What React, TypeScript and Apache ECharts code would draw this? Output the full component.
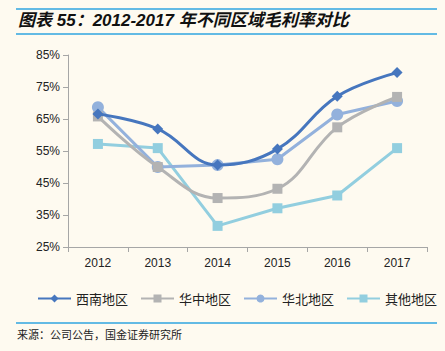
import React, { useEffect, useRef } from "react";
import * as echarts from "echarts";

const years = ["2012", "2013", "2014", "2015", "2016", "2017"];
const seriesNames = ["西南地区", "华中地区", "华北地区", "其他地区"];
const xinan = [66.6, 61.9, 50.6, 55.6, 72.1, 79.5];
const huazhong = [65.8, 50.0, 40.3, 43.2, 62.4, 71.9];
const huabei = [68.7, 50.0, 50.6, 52.4, 66.4, 70.6];
const qita = [57.2, 55.9, 31.6, 37.1, 41.1, 55.9];
const titleText = "图表 55：2012-2017 年不同区域毛利率对比";
const sourceText = "来源：公司公告，国金证券研究所";

const colors = ["#4676BE", "#B3B3B3", "#93B1DC", "#92CEDF"];
const symbols = ["diamond", "rect", "circle", "rect"];
const symbolSizes = [11, 10, 12, 10];
const smooths = [true, true, false, false];
const datasets = [xinan, huazhong, huabei, qita];

export default function App() {
  const ref = useRef<HTMLDivElement>(null);
  useEffect(() => {
    if (!ref.current) return;
    const chart = echarts.init(ref.current, null, { renderer: "svg" });
    const font = "'Liberation Sans', Arial, 'Noto Sans CJK SC', sans-serif";
    chart.setOption({
      animation: false,
      backgroundColor: "#FEFAF0",
      textStyle: { fontFamily: font },
      grid: { left: 68, right: 18, top: 55, bottom: 104, containLabel: false },
      legend: {
        bottom: 46,
        left: 37,
        right: 0,
        padding: 0,
        itemWidth: 33,
        itemHeight: 10,
        itemGap: 12,
        textStyle: { fontSize: 13, color: "#222", fontFamily: "'Noto Sans CJK SC', sans-serif" },
        data: seriesNames,
      },
      xAxis: {
        type: "category",
        data: years,
        boundaryGap: true,
        axisLine: { lineStyle: { color: "#A6A6A6", width: 1 } },
        axisTick: { show: true, alignWithLabel: false, length: 5, lineStyle: { color: "#A6A6A6" } },
        axisLabel: { color: "#222", fontSize: 12, margin: 10 },
      },
      yAxis: {
        type: "value",
        min: 25,
        max: 85,
        interval: 10,
        splitLine: { show: false },
        axisLine: { show: true, lineStyle: { color: "#A6A6A6", width: 1 } },
        axisTick: { show: true, length: 5, lineStyle: { color: "#A6A6A6" } },
        axisLabel: { color: "#222", fontSize: 12, margin: 8, formatter: "{value}%" },
      },
      series: seriesNames.map((name, i) => ({
        name,
        type: "line",
        data: datasets[i],
        smooth: smooths[i] ? 0.4 : false,
        symbol: symbols[i],
        symbolSize: symbolSizes[i],
        showSymbol: true,
        itemStyle: { color: colors[i] },
        lineStyle: { color: colors[i], width: 3 },
        z: 10 - i,
      })),
      graphic: [
        { type: "line", shape: { x1: 16, y1: 9, x2: 437, y2: 9 }, style: { stroke: "#2FA4E0", lineWidth: 1.5 } },
        { type: "line", shape: { x1: 16, y1: 34, x2: 437, y2: 34 }, style: { stroke: "#2FA4E0", lineWidth: 1.5 } },
        {
          type: "text",
          left: 18,
          top: 12,
          style: {
            text: titleText,
            fontSize: 17,
            fontWeight: "bold",
            fontStyle: "italic",
            fill: "#111",
            fontFamily: font,
          },
        },
        { type: "line", shape: { x1: 16, y1: 323, x2: 437, y2: 323 }, style: { stroke: "#2FA4E0", lineWidth: 1.5 } },
        {
          type: "text",
          left: 17,
          top: 328,
          style: { text: sourceText, fontSize: 11, fill: "#222", fontFamily: "'Noto Sans CJK SC', sans-serif" },
        },
      ],
    });
    return () => chart.dispose();
  }, []);
  return (
    <div
      ref={ref}
      style={{ position: "fixed", left: 0, top: 0, width: 445, height: 351 }}
    />
  );
}
